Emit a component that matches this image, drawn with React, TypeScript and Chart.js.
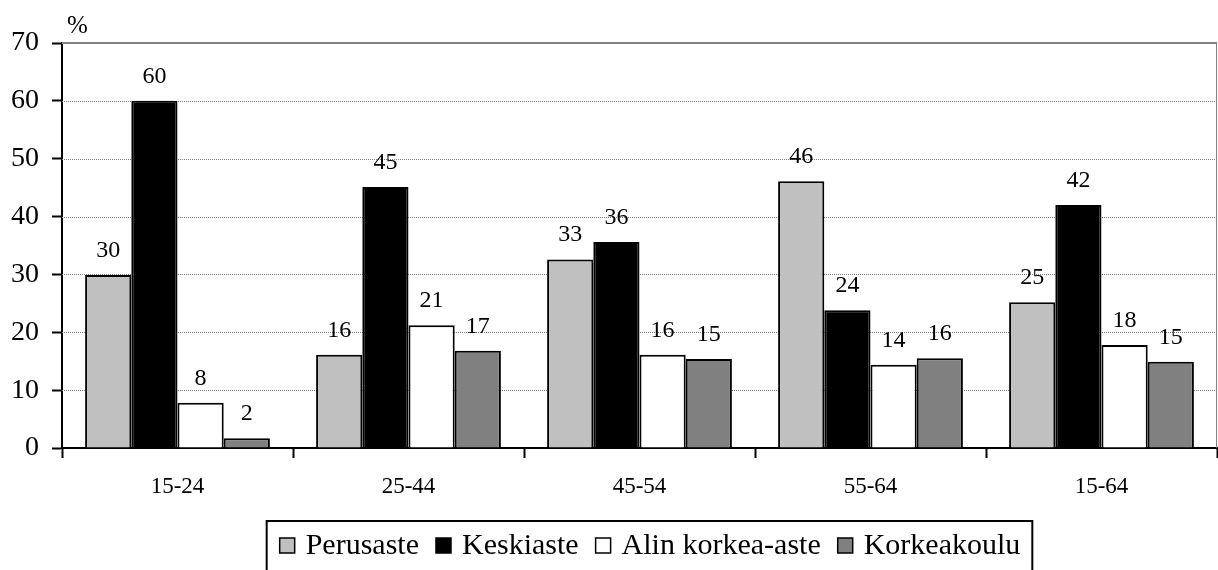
import { useEffect, useRef } from "react";
import { Chart, registerables } from "chart.js";

Chart.register(...registerables);

const categories = ["15-24", "25-44", "45-54", "55-64", "15-64"];
const seriesNames = ["Perusaste", "Keskiaste", "Alin korkea-aste", "Korkeakoulu"];
const perusaste = [29.9, 16.1, 32.6, 46.1, 25.2];
const keskiaste = [60.0, 45.1, 35.6, 23.8, 42.0];
const alinKorkeaAste = [7.8, 21.2, 16.1, 14.4, 17.8];
const korkeakoulu = [1.7, 16.8, 15.4, 15.5, 14.9];
const perusasteLabels = ["30", "16", "33", "46", "25"];
const keskiasteLabels = ["60", "45", "36", "24", "42"];
const alinKorkeaAsteLabels = ["8", "21", "16", "14", "18"];
const korkeakouluLabels = ["2", "17", "15", "16", "15"];
const seriesColors = ["#C0C0C0", "#000000", "#FFFFFF", "#808080"];
const yMin = 0;
const yMax = 70;
const yStep = 10;
const unitLabel = "%";

const FONT = "'Liberation Serif', 'Times New Roman', serif";

const allLabels = [perusasteLabels, keskiasteLabels, alinKorkeaAsteLabels, korkeakouluLabels];

const decorPlugin = {
  id: "decor",
  beforeDatasetsDraw(chart: any) {
    const { ctx, chartArea, scales } = chart;
    const y = scales.y;
    ctx.save();
    ctx.strokeStyle = "#808080";
    ctx.lineWidth = 1;
    ctx.setLineDash([1, 1]);
    for (let v = yMin + yStep; v < yMax; v += yStep) {
      const py = Math.round(y.getPixelForValue(v)) + 0.5;
      ctx.beginPath();
      ctx.moveTo(chartArea.left, py);
      ctx.lineTo(chartArea.right, py);
      ctx.stroke();
    }
    ctx.setLineDash([]);
    // top border of plot area
    const top = y.getPixelForValue(yMax);
    ctx.lineWidth = 2;
    ctx.beginPath();
    ctx.moveTo(chartArea.left, top);
    ctx.lineTo(chartArea.right, top);
    ctx.stroke();
    // right border
    ctx.lineWidth = 1;
    ctx.beginPath();
    ctx.moveTo(chartArea.right - 0.5, top);
    ctx.lineTo(chartArea.right - 0.5, chartArea.bottom);
    ctx.stroke();
    ctx.restore();
  },
  afterDatasetsDraw(chart: any) {
    const { ctx } = chart;
    ctx.save();
    ctx.fillStyle = "#000";
    ctx.font = `24px ${FONT}`;
    ctx.textAlign = "center";
    ctx.textBaseline = "alphabetic";
    chart.data.datasets.forEach((ds: any, di: number) => {
      const meta = chart.getDatasetMeta(di);
      meta.data.forEach((bar: any, i: number) => {
        ctx.fillText(allLabels[di][i], bar.x, bar.y - 18);
      });
    });
    ctx.restore();
  },
  afterDraw(chart: any) {
    const { ctx, chartArea } = chart;
    ctx.save();
    // unit label
    ctx.fillStyle = "#000";
    ctx.font = `25px ${FONT}`;
    ctx.textAlign = "left";
    ctx.textBaseline = "alphabetic";
    ctx.fillText(unitLabel, chartArea.left + 5, 33);

    // legend
    const fontSize = 30;
    ctx.font = `${fontSize}px ${FONT}`;
    const box = 15;
    const gapText = 11;
    const gapItem = 17;
    let total = 0;
    const widths = chart.data.datasets.map((ds: any) => ctx.measureText(ds.label).width);
    widths.forEach((w: number, i: number) => {
      total += box + gapText + w + (i < widths.length - 1 ? gapItem : 0);
    });
    const cx = 650;
    let x = cx - total / 2;
    const frameLeft = x - 13;
    const frameRight = x + total + 12;
    ctx.strokeStyle = "#000";
    ctx.lineWidth = 2;
    ctx.strokeRect(frameLeft, 521, frameRight - frameLeft, 70);
    chart.data.datasets.forEach((ds: any, i: number) => {
      ctx.fillStyle = ds.backgroundColor;
      ctx.fillRect(x, 538, box, box);
      ctx.lineWidth = 1.5;
      ctx.strokeStyle = "#000";
      ctx.strokeRect(x, 538, box, box);
      ctx.fillStyle = "#000";
      ctx.fillText(ds.label, x + box + gapText, 554);
      x += box + gapText + widths[i] + gapItem;
    });
    ctx.restore();
  },
};

export default function App() {
  const ref = useRef<HTMLCanvasElement | null>(null);
  useEffect(() => {
    if (!ref.current) return;
    const seriesData = [perusaste, keskiaste, alinKorkeaAste, korkeakoulu];
    const chart = new Chart(ref.current, {
      type: "bar",
      data: {
        labels: categories,
        datasets: seriesNames.map((name, i) => ({
          label: name,
          data: seriesData[i],
          backgroundColor: seriesColors[i],
          borderColor: "#000",
          borderWidth: 2,
          categoryPercentage: 0.8,
          barPercentage: 1.0,
        })),
      },
      options: {
        animation: false,
        responsive: false,
        maintainAspectRatio: false,
        layout: { padding: { top: 43, right: 1, left: 0, bottom: 0 } },
        plugins: {
          legend: { display: false },
          tooltip: { enabled: false },
        },
        scales: {
          x: {
            offset: true,
            grid: {
              offset: true,
              drawOnChartArea: false,
              drawTicks: true,
              tickLength: 10,
              tickColor: "#000",
              tickWidth: 2,
            },
            border: { display: true, color: "#000", width: 2 },
            ticks: {
              color: "#000",
              font: { family: FONT, size: 23 },
              padding: 15,
              maxRotation: 0,
            },
            afterFit: (scale: any) => {
              scale.height = 122;
            },
          },
          y: {
            min: yMin,
            max: yMax,
            grid: {
              drawOnChartArea: false,
              drawTicks: true,
              tickLength: 10,
              tickColor: "#000",
              tickWidth: 2,
            },
            border: { display: true, color: "#000", width: 2 },
            ticks: {
              stepSize: yStep,
              color: "#000",
              font: { family: FONT, size: 28 },
              padding: 13,
            },
            afterFit: (scale: any) => {
              scale.width = 62;
            },
          },
        },
      },
      plugins: [decorPlugin],
    });
    return () => chart.destroy();
  }, []);
  return (
    <div style={{ position: "fixed", left: 0, top: 0, width: 1218, height: 570, background: "#fff" }}>
      <canvas ref={ref} width={1218} height={570} style={{ display: "block" }} />
    </div>
  );
}
